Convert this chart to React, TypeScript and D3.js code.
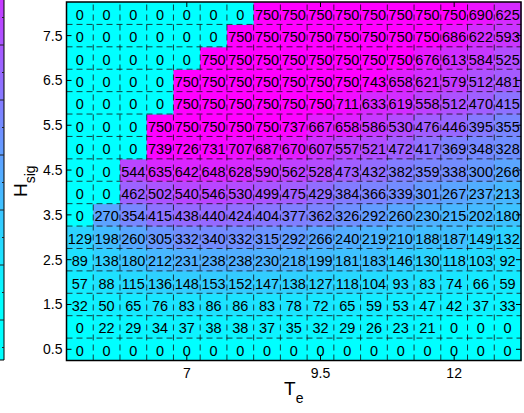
import { useEffect, useRef } from "react";
import * as d3 from "d3";

// T_e columns (x) and H_sig rows (y, bottom to top)
const TE = [5, 5.5, 6, 6.5, 7, 7.5, 8, 8.5, 9, 9.5, 10, 10.5, 11, 11.5, 12, 12.5, 13];
const HSIG = [0.5, 1, 1.5, 2, 2.5, 3, 3.5, 4, 4.5, 5, 5.5, 6, 6.5, 7, 7.5, 8];

// values per row, listed from H=0.5 up to H=8
const ROWS: number[][] = [
  [0, 0, 0, 0, 0, 0, 0, 0, 0, 0, 0, 0, 0, 0, 0, 0, 0],
  [0, 22, 29, 34, 37, 38, 38, 37, 35, 32, 29, 26, 23, 21, 0, 0, 0],
  [32, 50, 65, 76, 83, 86, 86, 83, 78, 72, 65, 59, 53, 47, 42, 37, 33],
  [57, 88, 115, 136, 148, 153, 152, 147, 138, 127, 118, 104, 93, 83, 74, 66, 59],
  [89, 138, 180, 212, 231, 238, 238, 230, 218, 199, 181, 183, 146, 130, 118, 103, 92],
  [129, 198, 260, 305, 332, 340, 332, 315, 292, 266, 240, 219, 210, 188, 187, 149, 132],
  [0, 270, 354, 415, 438, 440, 424, 404, 377, 362, 326, 292, 260, 230, 215, 202, 180],
  [0, 0, 462, 502, 540, 546, 530, 499, 475, 429, 384, 366, 339, 301, 267, 237, 213],
  [0, 0, 544, 635, 642, 648, 628, 590, 562, 528, 473, 432, 382, 359, 338, 300, 266],
  [0, 0, 0, 739, 726, 731, 707, 687, 670, 607, 557, 521, 472, 417, 369, 348, 328],
  [0, 0, 0, 750, 750, 750, 750, 750, 737, 667, 658, 586, 530, 476, 446, 395, 355],
  [0, 0, 0, 0, 750, 750, 750, 750, 750, 750, 711, 633, 619, 558, 512, 470, 415],
  [0, 0, 0, 0, 750, 750, 750, 750, 750, 750, 750, 743, 658, 621, 579, 512, 481],
  [0, 0, 0, 0, 0, 750, 750, 750, 750, 750, 750, 750, 750, 676, 613, 584, 525],
  [0, 0, 0, 0, 0, 0, 750, 750, 750, 750, 750, 750, 750, 750, 686, 622, 593],
  [0, 0, 0, 0, 0, 0, 0, 750, 750, 750, 750, 750, 750, 750, 750, 690, 625],
];

const X_TICKS = [7, 9.5, 12];
const Y_TICKS = [0.5, 1.5, 2.5, 3.5, 4.5, 5.5, 6.5, 7.5];
const CB_TICKS = [100, 200, 300, 400, 500, 600];
const CB_MINOR = [50, 150, 250, 350, 450, 550, 650];

const FONT = "'Liberation Sans', Arial, Helvetica, sans-serif";

export default function App() {
  const svgRef = useRef<SVGSVGElement>(null);

  useEffect(() => {
    if (!svgRef.current) return;
    const W = 524, H = 413;
    const svg = d3.select(svgRef.current).attr("width", W).attr("height", H);
    svg.selectAll("*").remove();

    const x = d3.scaleLinear().domain([4.75, 13.25]).range([66.5, 521]);
    const y = d3.scaleLinear().domain([0.25, 8.25]).range([360.5, 2]);
    const color = d3.scaleLinear<string>().domain([0, 750]).range(["#00ffff", "#ff00ff"]);
    const dx = x(TE[1]) - x(TE[0]), dy = y(HSIG[0]) - y(HSIG[1]);

    // colorbar, mostly cut off at the left edge
    const cbY = d3.scaleLinear().domain([0, 700]).range([375, -10]);
    const grad = svg.append("defs").append("linearGradient").attr("id", "cb")
      .attr("gradientUnits", "userSpaceOnUse").attr("x1", 0).attr("x2", 0).attr("y1", 300).attr("y2", -85);
    grad.append("stop").attr("offset", 0).attr("stop-color", "#00ffff");
    grad.append("stop").attr("offset", 1).attr("stop-color", "#ff00ff");
    svg.append("rect").attr("x", -2).attr("y", -2).attr("width", 6).attr("height", 362).attr("fill", "url(#cb)");
    svg.append("path").attr("d", "M4,-2V360H-2").attr("fill", "none").attr("stroke", "#000").attr("stroke-width", 1);
    CB_TICKS.forEach(t => svg.append("line").attr("x1", 0).attr("x2", 4).attr("y1", cbY(t)).attr("y2", cbY(t)).attr("stroke", "#222").attr("stroke-width", 1));
    CB_MINOR.forEach(t => svg.append("line").attr("x1", 2).attr("x2", 4).attr("y1", cbY(t)).attr("y2", cbY(t)).attr("stroke", "#222").attr("stroke-width", 1));

    // cells
    const g = svg.append("g");
    ROWS.forEach((row, r) => {
      row.forEach((v, c) => {
        g.append("rect").attr("x", x(TE[c]) - dx / 2).attr("y", y(HSIG[r]) - dy / 2)
          .attr("width", dx + 0.5).attr("height", dy + 0.5).attr("fill", color(v));
      });
    });

    // dashed cell edges
    TE.slice(1).forEach((t, i) => {
      const xv = (x(t) + x(TE[i])) / 2;
      g.append("line").attr("x1", xv).attr("x2", xv).attr("y1", y.range()[0]).attr("y2", y.range()[1])
        .attr("stroke", "#111").attr("stroke-opacity", 0.8).attr("stroke-width", 1).attr("stroke-dasharray", "6,4");
    });
    HSIG.slice(1).forEach((h, i) => {
      const yv = (y(h) + y(HSIG[i])) / 2;
      g.append("line").attr("x1", x.range()[0]).attr("x2", x.range()[1]).attr("y1", yv).attr("y2", yv)
        .attr("stroke", "#111").attr("stroke-opacity", 0.8).attr("stroke-width", 1).attr("stroke-dasharray", "6,4");
    });

    // cell numbers
    ROWS.forEach((row, r) => {
      row.forEach((v, c) => {
        g.append("text").attr("x", x(TE[c])).attr("y", y(HSIG[r]) + 1.5).attr("text-anchor", "middle")
          .attr("dominant-baseline", "central").attr("font-family", FONT).attr("font-size", 14.5)
          .attr("fill", "#000").text(String(v));
      });
    });

    // axes box + ticks
    const [x0, x1] = x.range(), [y0, y1] = y.range();
    svg.append("rect").attr("x", x0).attr("y", y1).attr("width", x1 - x0).attr("height", y0 - y1)
      .attr("fill", "none").attr("stroke", "#000").attr("stroke-width", 1.5);
    const tl = 5;
    X_TICKS.forEach(t => {
      svg.append("line").attr("x1", x(t)).attr("x2", x(t)).attr("y1", y0).attr("y2", y0 - tl).attr("stroke", "#000");
      svg.append("line").attr("x1", x(t)).attr("x2", x(t)).attr("y1", y1).attr("y2", y1 + tl).attr("stroke", "#000");
      svg.append("text").attr("x", x(t)).attr("y", y0 + 17).attr("text-anchor", "middle")
        .attr("font-family", FONT).attr("font-size", 14).attr("fill", "#000").text(String(t));
    });
    Y_TICKS.forEach(t => {
      svg.append("line").attr("x1", x0).attr("x2", x0 + tl).attr("y1", y(t)).attr("y2", y(t)).attr("stroke", "#000");
      svg.append("line").attr("x1", x1).attr("x2", x1 - tl).attr("y1", y(t)).attr("y2", y(t)).attr("stroke", "#000");
      svg.append("text").attr("x", x0 - 4).attr("y", y(t)).attr("text-anchor", "end").attr("dominant-baseline", "central")
        .attr("font-family", FONT).attr("font-size", 14).attr("fill", "#000").text(String(t));
    });

    // axis titles
    const xl = svg.append("text").attr("x", (x0 + x1) / 2).attr("y", 395).attr("text-anchor", "middle")
      .attr("font-family", FONT).attr("font-size", 19).attr("fill", "#000");
    xl.append("tspan").text("T");
    xl.append("tspan").attr("dy", 8).attr("font-size", 14).text("e");

    const yl = svg.append("text").attr("transform", `translate(27,${(y0 + y1) / 2}) rotate(-90)`).attr("text-anchor", "middle")
      .attr("font-family", FONT).attr("font-size", 19).attr("fill", "#000");
    yl.append("tspan").text("H");
    yl.append("tspan").attr("dy", 8).attr("font-size", 14).text("sig");
  }, []);

  return (
    <div style={{ position: "fixed", left: 0, top: 0, width: 524, height: 413, background: "#fff" }}>
      <svg ref={svgRef} style={{ display: "block" }} />
    </div>
  );
}
